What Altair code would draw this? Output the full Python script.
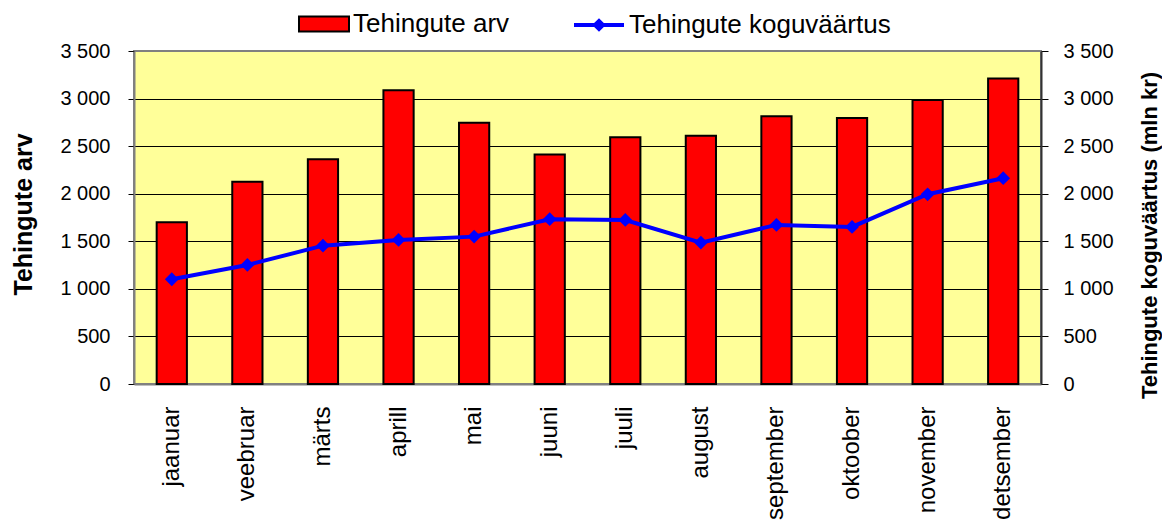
import altair as alt
import pandas as pd

months = ["jaanuar", "veebruar", "märts", "aprill", "mai", "juuni",
          "juuli", "august", "september", "oktoober", "november", "detsember"]
tehingute_arv = [1700, 2127, 2363, 3088, 2745, 2411, 2594, 2608, 2815, 2797, 2986, 3210]
koguvaartus = [1101, 1251, 1454, 1514, 1549, 1732, 1724, 1486, 1672, 1651, 1994, 2163]
y_ticks = [0, 500, 1000, 1500, 2000, 2500, 3000, 3500]

df = pd.DataFrame({"kuu": months, "arv": tehingute_arv, "vaartus": koguvaartus})

FONT = "Liberation Sans"
label_expr = "replace(format(datum.value, ','), ',', ' ')"

x_enc = alt.X(
    "kuu:N", sort=months,
    scale=alt.Scale(paddingInner=0.6, paddingOuter=0.3),
    axis=alt.Axis(title=None, labelAngle=270, labelAlign="right", labelBaseline="middle",
                  labelFontSize=24, labelPadding=22, ticks=False,
                  domainColor="#808080", domainWidth=2, labelColor="black"),
)

grid_color = alt.ConditionalAxisColor(
    condition={"test": "datum.value == 0 || datum.value == 3500", "value": "#808080"},
    value="black",
)

bars = alt.Chart(df).transform_calculate(s1="'Tehingute arv'").mark_bar(
    stroke="black", strokeWidth=2
).encode(
    x=x_enc,
    y=alt.Y("arv:Q", scale=alt.Scale(domain=[0, 3500], nice=False),
            axis=alt.Axis(values=y_ticks, labelExpr=label_expr, title="Tehingute arv",
                          titleAngle=270, titleX=-111, titleY=163, titleBaseline="middle",
                          titleAlign="center", titleFontSize=25, titleFontWeight="bold",
                          labelFontSize=20, tickSize=6, labelPadding=18,
                          grid=True, gridColor=grid_color, gridWidth=1,
                          domainColor="#808080", domainWidth=2, tickColor="black")),
    fill=alt.Fill("s1:N", scale=alt.Scale(domain=["Tehingute arv"], range=["#FF0000"]),
                  legend=alt.Legend(title=None, orient="none", legendX=164, legendY=-53,
                                    symbolType="M-1,-0.3H1V0.3H-1Z", symbolSize=2500,
                                    symbolStrokeColor="black", symbolStrokeWidth=2,
                                    labelFontSize=26, labelFont=FONT, labelColor="black",
                                    labelLimit=0, padding=0, labelOffset=3)),
)

line = alt.Chart(df).transform_calculate(s2="'Tehingute koguväärtus'").mark_line(
    strokeWidth=4,
    point=alt.OverlayMarkDef(shape="diamond", size=120, filled=True, color="#0000FF"),
).encode(
    x=x_enc,
    y=alt.Y("vaartus:Q", scale=alt.Scale(domain=[0, 3500], nice=False),
            axis=alt.Axis(orient="right", values=y_ticks, labelExpr=label_expr,
                          title="Tehingute koguväärtus (mln kr)",
                          titleAngle=270, titleX=108, titleY=184, titleBaseline="middle",
                          titleAlign="center", titleFontSize=22, titleFontWeight="bold",
                          titleLimit=0,
                          labelFontSize=20, tickSize=7, labelPadding=15, grid=False,
                          domainColor="#333333", domainWidth=2, tickColor="black")),
    stroke=alt.Stroke("s2:N", scale=alt.Scale(domain=["Tehingute koguväärtus"], range=["#0000FF"]),
                      legend=alt.Legend(title=None, orient="none", legendX=438, legendY=-53,
                                        symbolType="M-1,0H1M-0.16,0L0,-0.16L0.16,0L0,0.16Z",
                                        symbolSize=2500, symbolStrokeWidth=4,
                                        symbolFillColor="#0000FF",
                                        labelFontSize=26, labelFont=FONT, labelColor="black",
                                        labelLimit=0, padding=0, labelOffset=3)),
)

chart = alt.layer(bars, line).resolve_scale(
    y="independent", fill="independent", stroke="independent"
).properties(
    width=907, height=333,
    padding={"left": 126, "top": 43, "right": 121, "bottom": 140},
    autosize=alt.AutoSizeParams(type="none"),
).configure_view(
    fill="#FFFF99", stroke="#808080", strokeWidth=2
).configure_axis(
    labelFont=FONT, titleFont=FONT, labelColor="black", titleColor="black"
)

chart.save("out.html", embed_options={"renderer": "svg", "actions": False})
